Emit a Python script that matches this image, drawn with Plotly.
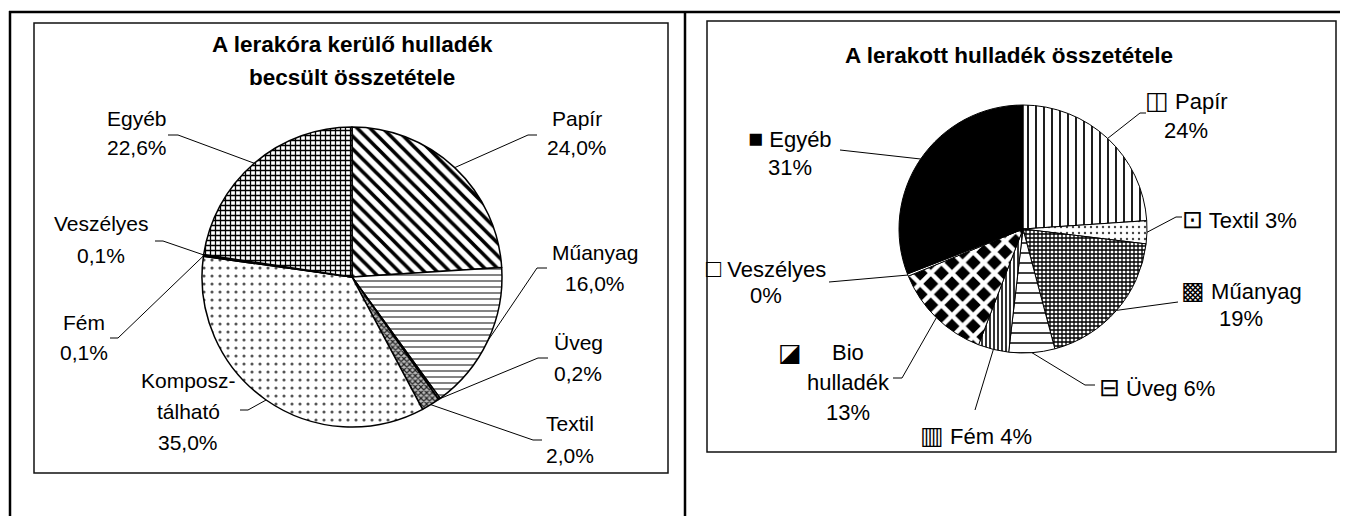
import math
import plotly.graph_objects as go

# page body has an 8px margin: the figure starts at (8, 8) of the window
OX, OY = 8, 8
W, H = 1348 - OX, 516 - OY

# ---------------- data ----------------
left_title = "A lerakóra kerülő hulladék<br>becsült összetétele"
left_labels = ["Papír", "Műanyag", "Üveg", "Textil", "Komposztálható", "Fém", "Veszélyes", "Egyéb"]
left_values = [24.0, 16.0, 0.2, 2.0, 35.0, 0.1, 0.1, 22.6]
left_text_lines = [["Papír"], ["Műanyag"], ["Üveg"], ["Textil"], ["Komposz-", "tálható"],
                   ["Fém"], ["Veszélyes"], ["Egyéb"]]

right_title = "A lerakott hulladék összetétele"
right_labels = ["Papír", "Textil", "Műanyag", "Üveg", "Fém", "Bio hulladék", "Veszélyes", "Egyéb"]
right_values = [24, 3, 19, 6, 4, 13, 0.3, 31]
right_keys = ["◫", "⊡", "▩", "⊟", "▥", "◪", "□", "■"]

# ---------------- styles ----------------
FONT = "Liberation Sans, Arial, sans-serif"

left_center, left_r = (352, 277), 150
right_center, right_r = (1023, 229), 124

left_style = dict(
    shape=["\\", "-", "x", "x", ".", "", "", "+"],
    fg=["black", "#444", "black", "#222", "#555", "black", "black", "black"],
    bg=["white", "white", "white", "#bbb", "white", "black", "black", "white"],
    size=[9, 6, 4, 4, 8, 8, 8, 5],
    sol=[0.4, 0.22, 0.5, 0.5, 0.12, 0.3, 0.3, 0.45],
)
right_style = dict(
    shape=["|", ".", "+", "-", "|", "x", "", ""],
    fg=["black", "#444", "black", "black", "black", "white", "black", "black"],
    bg=["white", "white", "white", "white", "white", "black", "white", "black"],
    size=[8, 6, 4, 10, 4, 15, 8, 8],
    sol=[0.22, 0.12, 0.55, 0.15, 0.4, 0.5, 0.3, 0.3],
)

# label layout: (center x, first line y, line spacing, leader start, leader elbow)
left_layout = [
    (577, 118, 30, (537, 135), (528, 135)),
    (595, 252, 31, (547, 268), (537, 268)),
    (578, 342, 31, (548, 358), (538, 358)),
    (570, 423, 32, (542, 440), (533, 440)),
    (188, 380, 31, (240, 410), (248, 410)),
    (84, 322, 30, (110, 338), (118, 338)),
    (101, 223, 32, (155, 241), (163, 241)),
    (137, 118, 30, (168, 135), (178, 135)),
]
right_layout = [
    (1186, 100, 30, (1146, 113), (1140, 113)),
    (1239, 219, 30, (1182, 217), (1176, 217)),
    (1241, 290, 28, (1178, 302), (1178, 302)),
    (1157, 387, 30, (1095, 385), (1085, 385)),
    (976, 435, 30, (975, 410), (975, 410)),
    (848, 352, 30, (893, 378), (902, 378)),
    (766, 268, 27, (829, 282), (829, 282)),
    (790, 138, 29, (840, 150), (840, 150)),
]


def px(x):
    return (x - OX) / W


def py(y):
    return 1 - (y - OY) / H


def domain(center, r):
    cx, cy = center
    return dict(x=[px(cx - r), px(cx + r)], y=[py(cy + r), py(cy - r)])


def mid_points(values, center, r):
    total = sum(values)
    cum = 0
    pts = []
    for v in values:
        mid = (cum + v / 2) / total
        ang = 2 * math.pi * mid
        pts.append((center[0] + r * math.sin(ang), center[1] - r * math.cos(ang)))
        cum += v
    return pts


def pie(labels, values, center, r, st, lw):
    return go.Pie(
        labels=labels, values=values, sort=False, direction="clockwise", rotation=0,
        domain=domain(center, r), textinfo="none", hoverinfo="none", showlegend=False,
        marker=dict(
            colors=st["bg"],
            line=dict(color="black", width=lw),
            pattern=dict(shape=st["shape"], fgcolor=st["fg"], bgcolor=st["bg"],
                         size=st["size"], solidity=st["sol"], fillmode="replace"),
        ),
    )


fig = go.Figure()
fig.add_trace(pie(left_labels, left_values, left_center, left_r, left_style, 1.5))
fig.add_trace(pie(right_labels, right_values, right_center, right_r, right_style, 1))

annotations = []
shapes = []


def add_text(x, y, text, size, bold=False):
    annotations.append(dict(
        x=px(x), y=py(y), xref="paper", yref="paper", text=f"<b>{text}</b>" if bold else text,
        showarrow=False, xanchor="center", yanchor="middle",
        font=dict(family=FONT, size=size, color="black"),
    ))


def add_leader(p0, p1, p2):
    path = f"M {px(p0[0])},{py(p0[1])} L {px(p1[0])},{py(p1[1])} L {px(p2[0])},{py(p2[1])}"
    shapes.append(dict(type="path", xref="paper", yref="paper", path=path,
                       line=dict(color="black", width=1)))


def key_span(k):
    return f'<span style="font-size:25px">{k}</span>'


# titles
t1, t2 = left_title.split("<br>")
add_text(352, 45, t1, 22.5, bold=True)
add_text(352, 78, t2, 22.5, bold=True)
add_text(1009, 55, right_title, 22.5, bold=True)

# left labels
lpts = mid_points(left_values, left_center, left_r)
for i, v in enumerate(left_values):
    cx, y0, sp, s, e = left_layout[i]
    lines = left_text_lines[i] + [f"{v:.1f}".replace(".", ",") + "%"]
    for k, line in enumerate(lines):
        add_text(cx, y0 + k * sp, line, 21)
    add_leader(s, e, lpts[i])

# right labels
rpts = mid_points(right_values, right_center, right_r)
rtotal = sum(right_values)
for i, v in enumerate(right_values):
    cx, y0, sp, s, e = right_layout[i]
    pct = f"{round(v / rtotal * 100)}%"
    name = right_labels[i]
    key = key_span(right_keys[i])
    if name in ("Textil", "Üveg", "Fém"):
        lines = [f"{key} {name} {pct}"]
    elif name == "Bio hulladék":
        add_text(790, y0, key, 22)
        lines = name.split(" ") + [pct]
    else:
        lines = [f"{key} {name}", pct]
    for k, line in enumerate(lines):
        add_text(cx, y0 + k * sp, line, 22)
    add_leader(s, e, rpts[i])


# frames
def rect(x0, y0, x1, y1, w):
    shapes.append(dict(type="rect", xref="paper", yref="paper", x0=px(x0), x1=px(x1),
                       y0=py(y1), y1=py(y0), line=dict(color="#111", width=w),
                       fillcolor="rgba(0,0,0,0)", layer="below"))


def hline(x0, x1, y, w):
    shapes.append(dict(type="line", xref="paper", yref="paper", x0=px(x0), x1=px(x1),
                       y0=py(y), y1=py(y), line=dict(color="black", width=w)))


def vline(x, y0, y1, w):
    shapes.append(dict(type="line", xref="paper", yref="paper", x0=px(x), x1=px(x),
                       y0=py(y0), y1=py(y1), line=dict(color="black", width=w)))


rect(34, 23, 668, 473, 1.5)
rect(707, 21, 1336, 452, 1.5)
hline(9, 1348, 12, 2.5)
vline(10, 11, 516, 2.5)
vline(685, 11, 516, 2.5)

fig.update_layout(
    width=W, height=H, margin=dict(l=0, r=0, t=0, b=0),
    paper_bgcolor="white", plot_bgcolor="white",
    annotations=annotations, shapes=shapes,
)

fig.write_html("out.html")
